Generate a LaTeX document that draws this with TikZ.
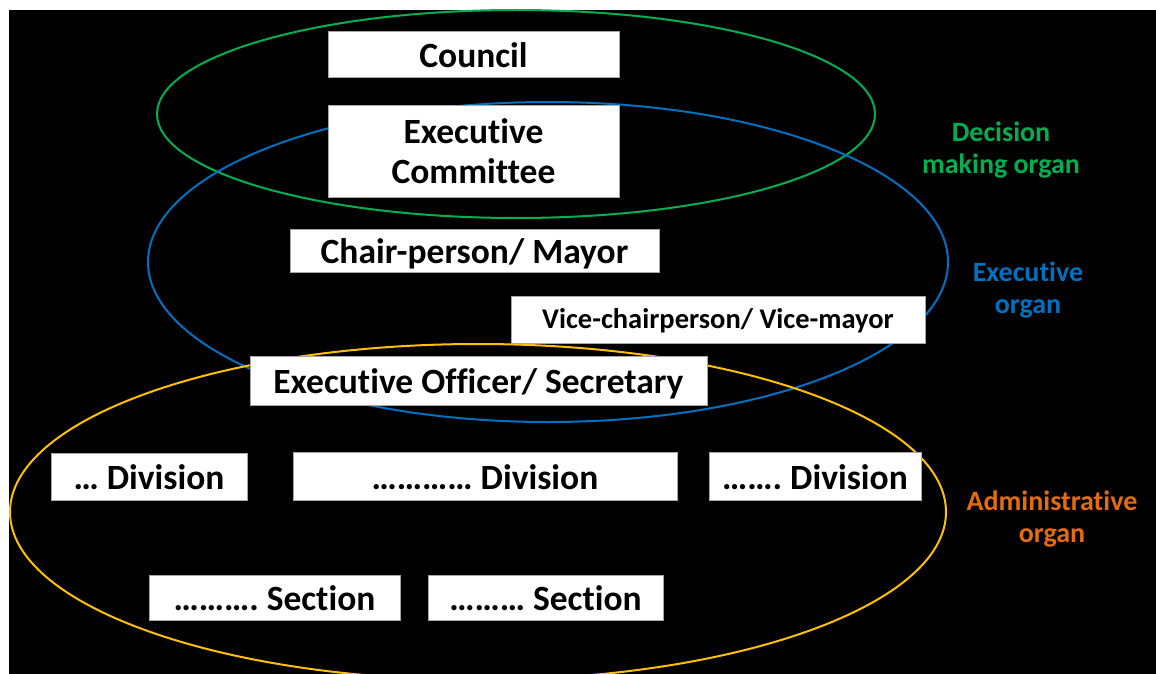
\documentclass[tikz,border=0pt]{standalone}
\usepackage{fontspec}
\setmainfont{Carlito}[Ligatures=NoCommon]
\definecolor{orggreen}{HTML}{00B050}
\definecolor{orgblue}{HTML}{0070C0}
\definecolor{orggold}{HTML}{FFC000}
\definecolor{orgorange}{HTML}{E46C0A}
\begin{document}
\begin{tikzpicture}[x=1pt,y=-1pt,
  plainbox/.style={draw=gray!70, line width=1pt, fill=white, inner sep=0pt,
    font=\bfseries\fontsize{35.5}{40}\selectfont, text=black, align=center},
  unitbox/.style={plainbox, text height=28pt, text depth=2pt},
  smallbox/.style={plainbox, font=\bfseries\fontsize{28.5}{32}\selectfont,
    text height=21pt, text depth=3pt},
  organ/.style={line width=2pt},
  organlabel/.style={font=\bfseries\fontsize{28}{32}\selectfont, align=center}]
  % page and dark canvas
  \fill[white] (0,0) rectangle (1156,674);
  \fill[black] (9,10) rectangle (1156,674);
  \useasboundingbox (0,0) rectangle (1156,674);

  % organ outlines
  \draw[organ, orggreen] (516,114) ellipse [x radius=359, y radius=104];
  \draw[organ, orgblue] (548,262) ellipse [x radius=400, y radius=160];
  \draw[organ, orggold] (478,512) ellipse [x radius=468, y radius=168];

  % units
  \node[unitbox, minimum width=291, minimum height=46] (council) at (473.5,55) {Council};
  \node[plainbox, minimum width=291, minimum height=91] (excom) at (473.5,151.5)
    {Executive\\Committee};
  \node[unitbox, minimum width=369, minimum height=43] (chair) at (474.5,250.5)
    {Chair-person/ Mayor};
  \node[smallbox, minimum width=414, minimum height=47] (vice) at (718,319.5)
    {Vice-chairperson/ Vice-mayor};
  \node[unitbox, minimum width=457, minimum height=49] (eo) at (478.5,380.5)
    {Executive Officer/ Secretary};
  \node[unitbox, minimum width=196, minimum height=47] (divA) at (149,476.5)
    {\dots\ Division};
  \node[unitbox, minimum width=384, minimum height=48] (divB) at (485,476)
    {\dots\dots\dots\dots\ Division};
  \node[unitbox, minimum width=212, minimum height=48] (divC) at (815,476)
    {\dots\dots.\ Division};
  \node[unitbox, minimum width=251, minimum height=45] (secA) at (274.5,597.5)
    {\dots\dots\dots.\ Section};
  \node[unitbox, minimum width=235, minimum height=45] (secB) at (545.5,597.5)
    {\dots\dots\dots\ Section};

  % organ labels
  \node[organlabel, text=orggreen] (lblDecision) at (1001,150) {Decision\\making organ};
  \node[organlabel, text=orgblue] (lblExec) at (1028,290) {Executive\\organ};
  \node[organlabel, text=orgorange] (lblAdmin) at (1052,519) {Administrative\\organ};
\end{tikzpicture}
\end{document}
